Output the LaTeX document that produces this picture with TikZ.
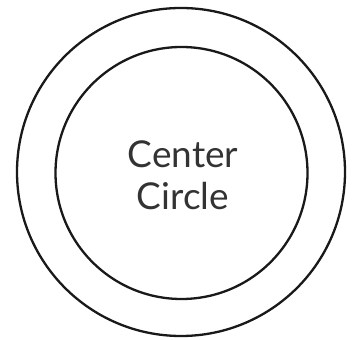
\documentclass[tikz,border=0pt]{standalone}
\usepackage{fontspec}
\setmainfont{Lato}
\begin{document}
\begin{tikzpicture}[x=1pt,y=1pt,
  ring/.style={circle,draw=black!90,line width=2.3pt,inner sep=0pt,outer sep=0pt},
  lbl/.style={align=center,inner sep=0pt,text=black!80,font=\fontsize{37}{42}\selectfont}]
\useasboundingbox (0,0) rectangle (352,339);
\node[ring,minimum size=328pt] (outer) at (181,167) {};
\node[ring,minimum size=252pt] (inner) at (181.5,166) {};
\node[lbl] (label) at (183,164) {Center\\Circle};
\end{tikzpicture}
\end{document}
